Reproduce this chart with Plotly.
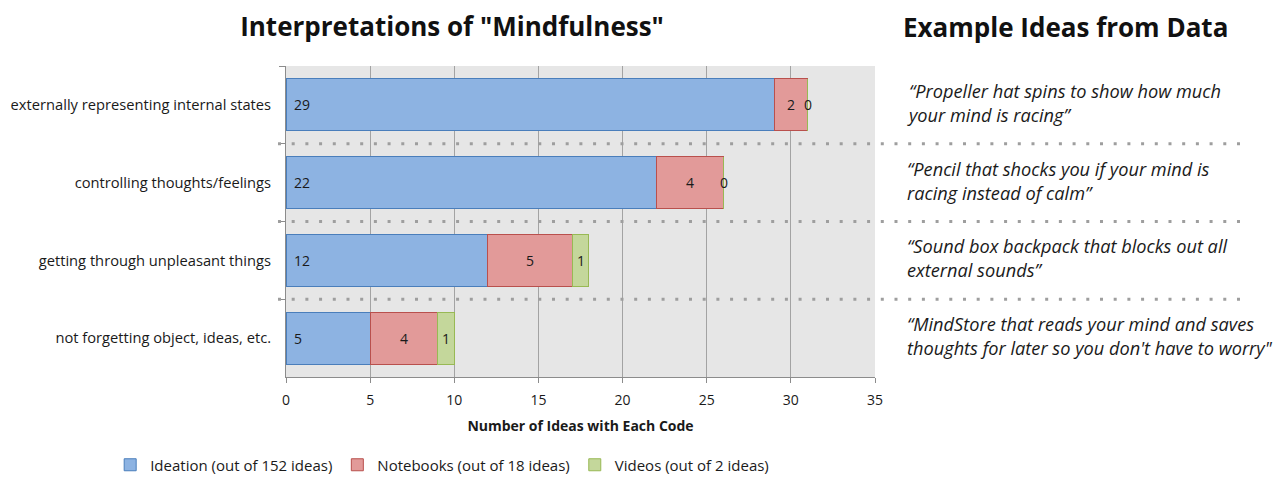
import plotly.graph_objects as go

# Codes (rows, top to bottom) and counts per data source
codes = [
    "externally representing internal states",
    "controlling thoughts/feelings",
    "getting through unpleasant things",
    "not forgetting object, ideas, etc.",
]
ideation = [29, 22, 12, 5]
notebooks = [2, 4, 5, 4]
videos = [0, 0, 1, 1]

series_names = [
    "Ideation (out of 152 ideas)",
    "Notebooks (out of 18 ideas)",
    "Videos (out of 2 ideas)",
]

examples = [
    "“Propeller hat spins to show how much<br>your mind is racing”",
    "“Pencil that shocks you if your mind is<br>racing instead of calm”",
    "“Sound box backpack that blocks out all<br>external sounds”",
    "“MindStore that reads your mind and saves<br>thoughts for later so you don't have to worry\"",
]

x_ticks = [0, 5, 10, 15, 20, 25, 30, 35]

FONT = "'Open Sans', Lato, sans-serif"
TXT = "#1a1a1a"

fills = ["#8db3e2", "#e29a99", "#c4d79b"]
edges = ["#4a7ebb", "#b9504d", "#98b954"]

fig = go.Figure()
for name, vals, fc, ec in zip(series_names, [ideation, notebooks, videos], fills, edges):
    fig.add_trace(go.Bar(
        name=name, y=codes, x=vals, orientation="h",
        marker=dict(color=fc, line=dict(color=ec, width=1)),
        hoverinfo="x+name",
    ))

annotations = []
lab_font = dict(family=FONT, size=14, color=TXT)
# value labels: ideation at the base, the others centred on their segment
for i, code in enumerate(codes):
    a, b, c = ideation[i], notebooks[i], videos[i]
    annotations.append(dict(x=0, y=code, xref="x", yref="y", text=str(a),
                            xanchor="left", xshift=6, showarrow=False, font=lab_font))
    annotations.append(dict(x=a + b / 2, y=code, xref="x", yref="y", text=str(b),
                            xanchor="center", showarrow=False, font=lab_font))
    annotations.append(dict(x=a + b + c / 2, y=code, xref="x", yref="y", text=str(c),
                            xanchor="center", showarrow=False, font=lab_font))

# example ideas on the right of each row
for code, ex in zip(codes, examples):
    annotations.append(dict(x=1.051, y=code, xref="paper", yref="y", text=ex,
                            xanchor="left", yanchor="middle", align="left",
                            showarrow=False, yshift=2,
                            font=dict(family=FONT, size=18.2, color=TXT, style="italic")))

annotations.append(dict(x=1.3226, y=1.126, xref="paper", yref="paper",
                        text="<b>Example Ideas from Data</b>", showarrow=False,
                        xanchor="center", yanchor="middle",
                        font=dict(family=FONT, size=26, color="#111111")))

# dotted separators between rows
shapes = []
for k in range(len(codes) - 1):
    shapes.append(dict(type="line", xref="paper", yref="y",
                       x0=-0.0136, x1=1.62, y0=k + 0.5, y1=k + 0.5,
                       line=dict(color="#9e9e9e", width=3, dash="3px,10.7px"),
                       layer="above"))

fig.update_layout(
    width=1282, height=486,
    margin=dict(l=286, r=407, t=66, b=109, autoexpand=False),
    barmode="stack", bargap=0.33,
    paper_bgcolor="white", plot_bgcolor="#e6e6e6",
    font=dict(family=FONT, size=14, color=TXT),
    title=dict(text="<b>Interpretations of \"Mindfulness\"</b>",
               x=0.3526, y=0.944, xanchor="center", yanchor="middle",
               font=dict(family=FONT, size=26, color="#111111")),
    xaxis=dict(range=[0, 35], tickvals=x_ticks, showgrid=True,
               gridcolor="#a3a3a3", gridwidth=1, zeroline=False,
               showline=True, linecolor="#8c8c8c", linewidth=1,
               ticks="outside", ticklen=5, tickcolor="#8c8c8c", ticklabelstandoff=5,
               tickfont=dict(family=FONT, size=14, color=TXT),
               title=dict(text="<b>Number of Ideas with Each Code</b>", standoff=13,
                          font=dict(family=FONT, size=14, color=TXT))),
    yaxis=dict(autorange="reversed", showgrid=False, zeroline=False,
               showline=True, linecolor="#8c8c8c", linewidth=1,
               ticks="outside", ticklen=6, tickcolor="#8c8c8c", tickson="boundaries",
               tickfont=dict(family=FONT, size=14.7, color=TXT), ticklabelstandoff=11),
    legend=dict(orientation="h", x=-0.2985, y=-0.283, xanchor="left", yanchor="middle",
                font=dict(family=FONT, size=15, color=TXT), traceorder="normal",
                bgcolor="rgba(0,0,0,0)"),
    annotations=annotations,
    shapes=shapes,
)

fig.write_html("out.html")
